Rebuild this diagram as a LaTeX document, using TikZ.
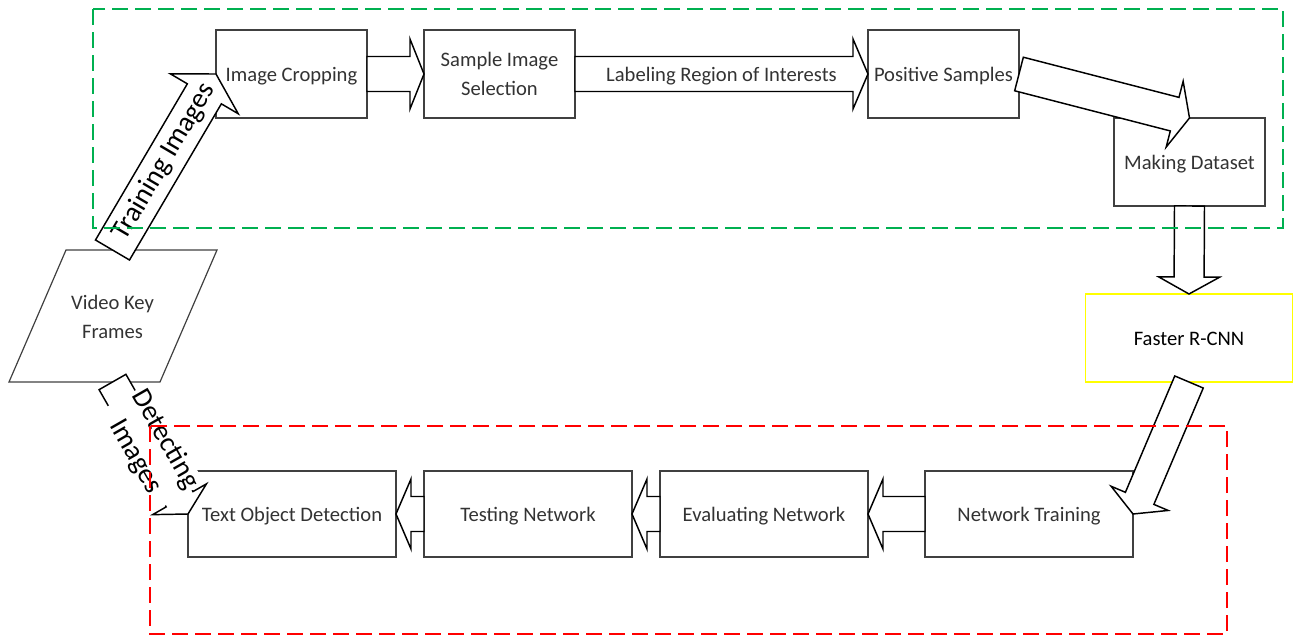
\documentclass[tikz,border=0pt]{standalone}
\usepackage{fontspec}
\setmainfont{Carlito}
\usetikzlibrary{calc}

\definecolor{framegray}{HTML}{404040}
\definecolor{labelgray}{HTML}{333333}
\definecolor{groupgreen}{HTML}{00B050}
\definecolor{groupred}{HTML}{FF0000}
\definecolor{boxyellow}{HTML}{FFFF00}

\newcommand\boxfont{\fontsize{15.45}{21.75}\selectfont}
\newcommand\bigfont{\fontsize{21}{25.5}\selectfont}

% Block arrow: name, tail, tip, half shaft width, half head width, head length
\newcommand\blockarrow[6]{%
  \coordinate (#1-base) at ($(#3)!#6!(#2)$);
  \draw[barrow]
    ($(#2)!#4!90:(#3)$) -- ($(#1-base)!#4!90:(#3)$) -- ($(#1-base)!#5!90:(#3)$)
    -- (#3)
    -- ($(#1-base)!#5!-90:(#3)$) -- ($(#1-base)!#4!-90:(#3)$) -- ($(#2)!#4!-90:(#3)$)
    -- cycle;
}

\tikzset{
  stagebox/.style={draw=framegray, line width=0.9pt, fill=white, inner sep=0pt,
    outer sep=0pt, text=labelgray, font=\boxfont, align=center},
  oneline/.style={text height=14.7pt, text depth=4.15pt},
  topbox/.style={stagebox, minimum width=113.25pt, minimum height=66pt},
  botbox/.style={stagebox, oneline, minimum width=156pt, minimum height=64.5pt},
  barrow/.style={draw=black, fill=white, line width=1.1pt, line join=miter},
  arrowlabel/.style={text=black, font=\bigfont, align=center, inner sep=1pt},
  groupframe/.style={line width=1.5pt, dash pattern=on 12pt off 5.25pt},
}

\begin{document}
\begin{tikzpicture}[x=0.75pt, y=-0.75pt]
\useasboundingbox (0,0) rectangle (1293,639);

% training stages
\node[topbox, oneline] (crop) at (291.5,74) {Image Cropping};
\node[topbox] (sample) at (499.5,74) {Sample Image\\Selection};
\node[topbox, oneline] (positive) at (943.5,74) {Positive Samples};
\node[topbox, oneline] (dataset) at (1189.5,162) {Making Dataset};

% detector
\node[stagebox, oneline, draw=boxyellow, text=black, minimum width=155.25pt, minimum height=66pt]
  (faster) at (1189,338) {Faster R-CNN};

% detection stages
\node[botbox] (ntrain) at (1029,514) {Network Training};
\node[botbox] (evalnet) at (764,514) {Evaluating Network};
\node[botbox] (testnet) at (528,514) {Testing Network};
\node[botbox] (textdet) at (292,514) {Text Object Detection};

% input data
\node[text=labelgray, font=\boxfont, align=center] (vkf) at (112.5,317) {Video Key\\Frames};
\draw[draw=framegray, line width=0.9pt]
  ($(vkf.center)+(-46.5,-67)$) -- ($(vkf.center)+(104.5,-67)$)
  -- ($(vkf.center)+(47.5,65)$) -- ($(vkf.center)+(-103.5,65)$) -- cycle;
\coordinate (vkf-top) at ($(vkf.center)+(0,-67)$);
\coordinate (vkf-bot) at ($(vkf.center)+(0,65)$);

% flow arrows
\blockarrow{a1}{crop.east}{sample.west}{13.125pt}{26.25pt}{10.5pt}
\blockarrow{a2}{sample.east}{positive.west}{13.125pt}{26.25pt}{11.25pt}
\blockarrow{a3}{positive.east}{dataset.north}{13pt}{25.5pt}{11.5pt}
\blockarrow{a4}{dataset.south}{faster.north}{11.25pt}{22.9pt}{12.75pt}
\blockarrow{a5}{faster.south}{ntrain.east}{11.6pt}{23.25pt}{12.75pt}
\blockarrow{a6}{ntrain.west}{evalnet.east}{13.125pt}{26.25pt}{11.25pt}
\blockarrow{a7}{evalnet.west}{testnet.east}{13.125pt}{26.25pt}{11.25pt}
\blockarrow{a8}{testnet.west}{textdet.east}{13.125pt}{26.25pt}{11.25pt}
\blockarrow{a9}{vkf-top}{crop.west}{14.8pt}{29.5pt}{17.25pt}
\blockarrow{a10}{vkf-bot}{textdet.west}{11.6pt}{23.25pt}{12.75pt}

% arrow labels
\node[text=labelgray, font=\boxfont, oneline, inner sep=0pt] (labroi)
  at ($(sample.east)!0.5!(positive.west)$) {Labeling Region of Interests};
\path (vkf-top) -- (crop.west)
  node[midway, sloped, arrowlabel] (labtrain) {Training Images};
\path (vkf-bot) -- (textdet.west)
  node[midway, sloped, arrowlabel, fill=white, inner xsep=2pt, inner ysep=0.5pt]
  (labdetect) {Detecting\\Images};

% group frames
\draw[groupframe, draw=groupgreen] (93,9) rectangle (1283,228);
\draw[groupframe, draw=groupred] (150,426) rectangle (1227,634);
\end{tikzpicture}
\end{document}
